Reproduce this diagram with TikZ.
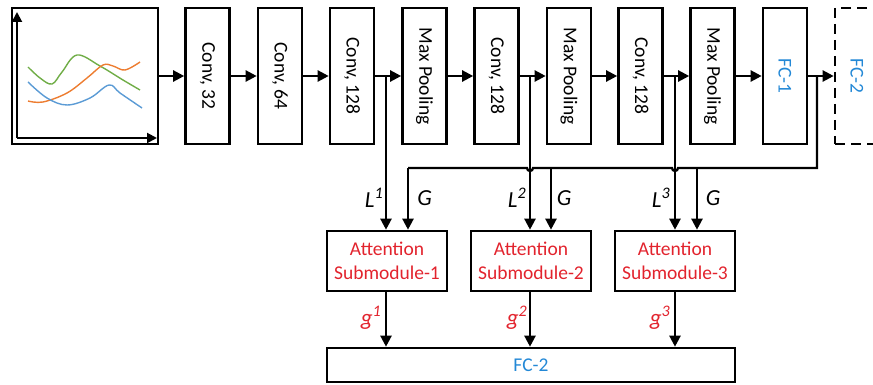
\documentclass[tikz,border=0pt]{standalone}
\usepackage{fontspec}
\usepackage{graphicx}
\setmainfont{Carlito}
\usetikzlibrary{arrows.meta,calc}

\definecolor{attred}{RGB}{226,35,45}
\definecolor{fcblue}{RGB}{35,136,214}
\definecolor{cgreen}{RGB}{112,173,71}
\definecolor{corange}{RGB}{237,125,49}
\definecolor{cblue}{RGB}{91,155,213}

\tikzset{
  boxline/.style={draw=black, line width=2.6pt, inner sep=0pt},
  layer/.style={boxline, minimum width=44pt, minimum height=136pt,
    font=\fontsize{19.5}{22}\selectfont},
  attbox/.style={boxline, minimum width=120pt, minimum height=60pt,
    align=center, text=attred, font=\fontsize{19.5}{24}\selectfont},
  flow/.style={line width=2.3pt, -{Triangle[length=11pt,width=11pt]}},
  wire/.style={line width=2.3pt},
  sig/.style={font=\fontsize{23}{24}\selectfont\itshape},
  curve/.style={line width=1.4pt, smooth, tension=0.6},
}

\newcommand{\vtext}[1]{\rotatebox{-90}{#1}}

\begin{document}
\begin{tikzpicture}[x=1pt, y=-1pt]
\useasboundingbox (0,0) rectangle (873,385);
\clip (0,0) rectangle (873,385);

% input signal panel
\node[boxline, minimum width=146pt, minimum height=136pt] (inp) at (85,76) {};
\draw[line width=2pt, -{Triangle[length=10pt,width=10pt]}] (17,138) -- (17,12);
\draw[line width=2pt, -{Triangle[length=10pt,width=10pt]}] (17,138) -- (157,138);
\draw[curve, cgreen] plot coordinates {(28,67) (40,78) (52,84) (62,72) (77,55) (100,66) (123,80) (140,90)};
\draw[curve, corange] plot coordinates {(28,101) (43,102) (67,93) (87,78) (103,65) (113,66) (125,70) (140,62)};
\draw[curve, cblue] plot coordinates {(28,82) (47,98) (67,105) (90,98) (109,85) (120,93) (142,108)};

% convolutional backbone
\node[layer] (c1)  at (207.5,76) {\vtext{Conv, 32}};
\node[layer] (c2)  at (280,76)   {\vtext{Conv, 64}};
\node[layer] (c3)  at (352,76)   {\vtext{Conv, 128}};
\node[layer] (p1)  at (424.5,76) {\vtext{Max Pooling}};
\node[layer] (c4)  at (496.5,76) {\vtext{Conv, 128}};
\node[layer] (p2)  at (569,76)   {\vtext{Max Pooling}};
\node[layer] (c5)  at (640.5,76) {\vtext{Conv, 128}};
\node[layer] (p3)  at (712.5,76) {\vtext{Max Pooling}};
\node[layer, text=fcblue] (fc1) at (785,76) {\vtext{FC-1}};
\node[layer, dashed, dash pattern=on 10pt off 6pt, text=fcblue] (fc2) at (857,76) {\vtext{FC-2}};

\draw[flow] (inp.east) -- (c1.west);
\draw[flow] (c1.east) -- (c2.west);
\draw[flow] (c2.east) -- (c3.west);
\draw[flow] (c3.east) -- (p1.west);
\draw[flow] (p1.east) -- (c4.west);
\draw[flow] (c4.east) -- (p2.west);
\draw[flow] (p2.east) -- (c5.west);
\draw[flow] (c5.east) -- (p3.west);
\draw[flow] (p3.east) -- (fc1.west);
\draw[flow] (fc1.east) -- (fc2.west);

% attention submodules and final classifier
\node[attbox] (a1) at (387,261) {Attention\\Submodule-1};
\node[attbox] (a2) at (531,261) {Attention\\Submodule-2};
\node[attbox] (a3) at (675,261) {Attention\\Submodule-3};
\node[boxline, minimum width=408pt, minimum height=34pt, text=fcblue,
      font=\fontsize{19.5}{22}\selectfont] (out) at (531,365) {FC-2};

% local feature taps
\coordinate (l1) at (386,76);
\coordinate (l2) at (530,76);
\coordinate (l3) at (675,76);
\draw[flow] (l1) -- (l1 |- a1.north);
\draw[flow] (l2) -- (l2 |- a2.north);
\draw[flow] (l3) -- (l3 |- a3.north);

% global feature bus with hops over the local taps
\coordinate (gtap) at (817,76);
\coordinate (gbus) at (817,168);
\coordinate (g1) at (408,168);
\coordinate (g2) at (551,168);
\coordinate (g3) at (697,168);
\draw[wire] (gtap) -- (gbus) -- (678,168) arc[start angle=0, end angle=-180, radius=3pt]
  -- (533,168) arc[start angle=0, end angle=-180, radius=3pt] -- (g1);
\draw[flow] (g1) -- (g1 |- a1.north);
\draw[flow] (g2) -- (g2 |- a2.north);
\draw[flow] (g3) -- (g3 |- a3.north);

% attention outputs
\draw[flow] (l1 |- a1.south) -- (l1 |- out.north);
\draw[flow] (l2 |- a2.south) -- (l2 |- out.north);
\draw[flow] (l3 |- a3.south) -- (l3 |- out.north);

% signal labels
\node[sig] (tl1) at (374,198) {L\textsuperscript{1}};
\node[sig] (tg1) at (424.5,198) {G};
\node[sig] (tl2) at (517,198) {L\textsuperscript{2}};
\node[sig] (tg2) at (564,198) {G};
\node[sig] (tl3) at (661,198) {L\textsuperscript{3}};
\node[sig] (tg3) at (713,198) {G};
\node[sig, text=attred] (to1) at (371,318) {g\textsuperscript{1}};
\node[sig, text=attred] (to2) at (517,318) {g\textsuperscript{2}};
\node[sig, text=attred] (to3) at (660,318) {g\textsuperscript{3}};
\end{tikzpicture}
\end{document}
